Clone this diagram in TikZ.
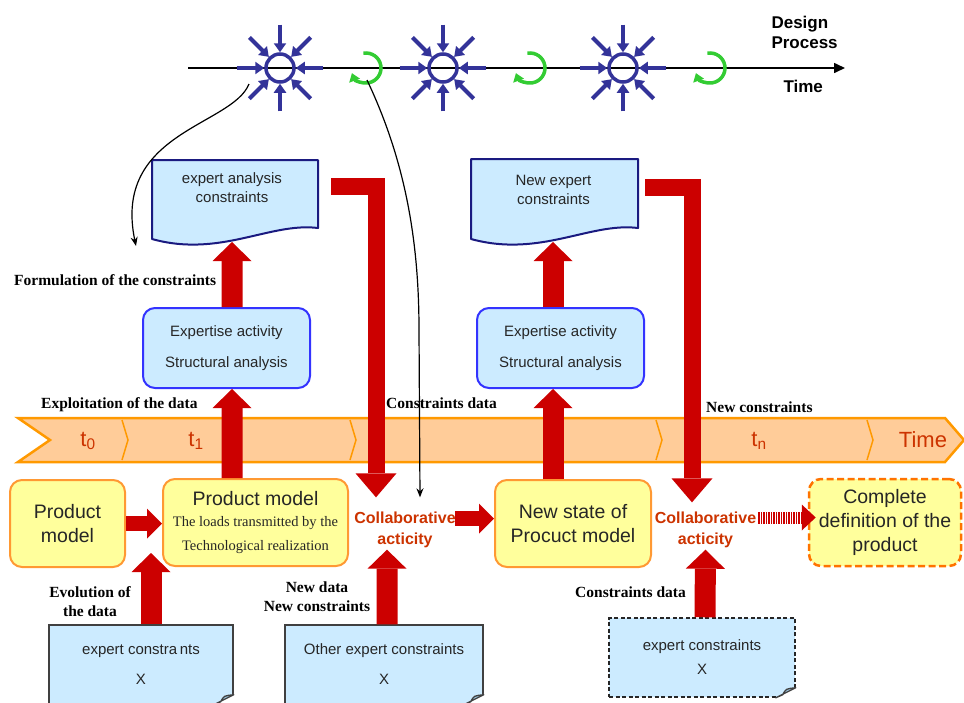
\documentclass[tikz,border=0pt]{standalone}
\usepackage{fontspec}
\setmainfont{Liberation Serif}
\setsansfont{Liberation Sans}
\usetikzlibrary{arrows.meta,calc}

\definecolor{flowred}{HTML}{CC0000}
\definecolor{starblue}{HTML}{333399}
\definecolor{turngreen}{HTML}{33CC33}
\definecolor{paleblue}{HTML}{CCEBFF}
\definecolor{docnavy}{HTML}{1A1A80}
\definecolor{boxblue}{HTML}{3333FF}
\definecolor{paleyellow}{HTML}{FFFF9C}
\definecolor{boxorange}{HTML}{FF9933}
\definecolor{bandfill}{HTML}{FFCC99}
\definecolor{bandline}{HTML}{FF9900}
\definecolor{rust}{HTML}{CC3300}
\definecolor{inkgray}{HTML}{262626}
\definecolor{foldblue}{HTML}{9CC3DC}

\def\loadsfont{\rmfamily\fontsize{14.5}{21}\selectfont}

\tikzset{
  hub/.style={circle, draw=starblue, line width=3.5pt, minimum size=28pt, inner sep=0pt},
  hubarrow/.style={starblue, line width=4pt, -{Triangle[width=12pt,length=9pt]}},
  turnarrow/.style={turngreen, line width=3.5pt, -{Triangle[width=11pt,length=8pt]}},
  cuearrow/.style={black, line width=1.2pt, -{Stealth[width=7pt,length=9pt]}},
  labtext/.style={font=\rmfamily\bfseries\fontsize{15.5}{19}\selectfont, inner sep=0pt},
  doctext/.style={font=\sffamily\fontsize{15}{19}\selectfont, text=inkgray, align=center, inner sep=0pt},
  docline/.style={draw=docnavy, line width=2pt, fill=paleblue, line join=round},
  expbox/.style={rectangle, rounded corners=12pt, draw=boxblue, line width=2pt, fill=paleblue,
    minimum width=167pt, minimum height=80pt, align=center, text=inkgray,
    font=\sffamily\fontsize{15}{31}\selectfont},
  modelbox/.style={rectangle, rounded corners=12pt, draw=boxorange, line width=2pt, fill=paleyellow,
    minimum height=87pt, align=center, text=inkgray, inner sep=2pt,
    font=\sffamily\fontsize{19.5}{24}\selectfont},
  collab/.style={font=\sffamily\bfseries\fontsize{16}{21}\selectfont, text=rust, align=center, inner sep=2pt},
  notebox/.style={rectangle, draw=black!75, line width=1.5pt, fill=paleblue, align=center, text=inkgray,
    inner sep=0pt, font=\sffamily\fontsize{15}{30}\selectfont},
  bandtext/.style={font=\sffamily\fontsize{22}{24}\selectfont, text=rust, inner sep=0pt},
  redup/.style={flowred, line width=21pt, -{Triangle[width=39pt,length=19pt,line width=0pt]}},
  redside/.style={flowred, line width=15pt, -{Triangle[width=30pt,length=15pt,line width=0pt]}},
  redbend/.style={flowred, line width=17pt, line join=miter, -{Triangle[width=41pt,length=24pt,line width=0pt]}},
  reddots/.style={flowred, line width=12pt, dash pattern=on 1.5pt off 1pt, -{Triangle[width=26pt,length=14pt,line width=0pt]}},
}

\begin{document}
\begin{tikzpicture}[x=10pt,y=-10pt]
  \useasboundingbox (0,0) rectangle (96.4,70.2);

  %%%%% TIME AXIS %%%%%
  \coordinate (axstart) at (18.8,6.8);
  \coordinate (axend) at (84.5,6.8);
  \draw[line width=1.6pt, -{Triangle[width=10pt,length=11pt]}] (axstart) -- (axend);
  \node[font=\sffamily\bfseries\fontsize{17}{20}\selectfont, align=left, anchor=west] (design) at (76.8,3.2) {Design\\Process};
  \node[font=\sffamily\bfseries\fontsize{17}{20}\selectfont, anchor=west] (timeword) at (78.0,8.6) {Time};

  \foreach \sx [count=\i] in {28.0,44.3,62.3}{
    \node[hub] (hub\i) at (\sx,6.8) {};
    \foreach \a in {0,45,...,315}
      \draw[hubarrow] ($(hub\i.center)!2.75!(hub\i.\a)$) -- (hub\i.\a);
  }
  \foreach \gx [count=\i] in {36.6,53.0,71.0}{
    \coordinate (turn\i) at (\gx,6.8);
    \draw[turnarrow] ($(turn\i)+(-100:1.5)$) arc[start angle=-100, end angle=160, radius=1.5];
  }

  %%%%% TIME BAND %%%%%
  \draw[bandline, fill=bandfill, line width=2.5pt, line join=miter] (1.8,41.8) -- (94.5,41.8) -- (96.4,44.0) -- (94.5,46.2) -- (1.8,46.2) -- (5.0,44.0) -- cycle;
  \foreach \bx in {12.2,35.0,65.6,86.7}
    \draw[bandline, line width=1.5pt] (\bx,42.0) -- (\bx+0.6,44.0) -- (\bx,46.0);
  \node[bandtext] (tzero) at (8.8,44.1) {t\textsubscript{0}};
  \node[bandtext] (tone) at (19.6,44.1) {t\textsubscript{1}};
  \node[bandtext] (tlast) at (75.9,44.1) {t\textsubscript{n}};
  \node[bandtext] (bandtime) at (92.3,44.0) {Time};

  %%%%% LABELS %%%%%
  \node[labtext, anchor=west] (formlab) at (1.4,28.0) {Formulation of the constraints};
  \node[labtext, anchor=west] (exploitlab) at (4.1,40.5) {Exploitation of the data};
  \node[labtext, anchor=west] (cdlabA) at (38.6,40.3) {Constraints data};
  \node[labtext, anchor=west] (nclab) at (70.6,40.7) {New constraints};
  \node[labtext, align=center] (evollab) at (9.0,60.2) {Evolution of\\the data};
  \node[labtext, align=center] (newlab) at (31.7,59.7) {New data\\New constraints};
  \node[labtext, anchor=west] (cdlabB) at (57.5,59.2) {Constraints data};

  %%%%% EXPERT DOCUMENTS %%%%%
  \draw[docline] (15.2,16.0) -- (31.8,16.0) -- (31.8,22.8) .. controls (27.0,22.2) and (22.0,25.8) .. (15.2,23.9) -- cycle;
  \node[doctext] (expA) at (23.2,18.75) {expert analysis\\constraints};
  \coordinate (expAfoot) at (23.2,24.2);
  \coordinate (expAtail) at (33.1,18.65);

  \draw[docline] (47.1,15.9) -- (63.8,15.9) -- (63.8,22.8) .. controls (59.0,22.2) and (54.0,25.8) .. (47.1,23.9) -- cycle;
  \node[doctext] (expB) at (55.35,18.95) {New expert\\constraints};
  \coordinate (expBfoot) at (55.3,24.2);
  \coordinate (expBtail) at (64.5,18.7);

  \node[expbox] (actA) at (22.65,34.8) {Expertise activity\\Structural analysis};
  \node[expbox] (actB) at (56.05,34.8) {Expertise activity\\Structural analysis};

  %%%%% PRODUCT STATES %%%%%
  \node[modelbox, minimum width=115pt] (pmA) at (6.75,52.35) {Product\\model};
  \node[modelbox, minimum width=185pt] (pmB) at (25.55,52.25) {Product model\\[-3pt]\loadsfont The loads transmitted by the\\\loadsfont Technological realization};
  \node[modelbox, minimum width=156pt] (newstate) at (57.3,52.35) {New state of\\Procuct model};
  \node[modelbox, minimum width=152pt, draw=orange!90!red, line width=2.5pt, dash pattern=on 7pt off 3.5pt] (complete) at (88.5,52.25) {Complete\\definition of the\\product};

  \node[collab] (meetA) at (40.5,52.95) {Collaborative\\acticity};
  \node[collab] (meetB) at (70.55,52.95) {Collaborative\\acticity};

  %%%%% BOTTOM NOTES %%%%%
  \node[notebox, minimum width=184pt, minimum height=79pt] (noteA) at (14.1,66.45) {expert constra\,nts\\X};
  \node[notebox, minimum width=198pt, minimum height=79pt] (noteB) at (38.4,66.45) {Other expert constraints\\X};
  \node[notebox, minimum width=186pt, minimum height=79pt, dash pattern=on 4pt off 2.5pt, draw=black!85,
        font=\sffamily\fontsize{15}{24}\selectfont] (noteC) at (70.2,65.75) {expert constraints\\X};
  \foreach \n in {noteA,noteB,noteC}{
    \fill[white] ($(\n.south east)+(0.2,0.2)$) -- ($(\n.south east)+(0.2,-1.2)$) -- ($(\n.south east)+(-2.2,0.2)$) -- cycle;
    \draw[black!75, line width=1.3pt, fill=foldblue, line join=round] ($(\n.south east)+(0,-1.0)$) .. controls ($(\n.south east)+(-1.0,-0.9)$) .. ($(\n.south east)+(-1.3,-0.3)$) -- ($(\n.south east)+(-2.0,0)$) -- cycle;
  }

  %%%%% RED FLOWS %%%%%
  \draw[redside] (pmA.east) -- (pmA.east -| pmB.west);
  \draw[redside] ($(meetA.east |- newstate.west)+(-0.3,-0.5)$) -- ($(newstate.west)+(0,-0.5)$);
  \draw[reddots] ($(meetB.east |- complete.west)+(0,-0.5)$) -- ($(complete.west)+(0.8,-0.5)$);

  \draw[redup] ([xshift=-23.5pt]pmB.north) -- ([xshift=5.5pt]actA.south);
  \draw[redup] ([xshift=5.5pt]actA.north) -- (expAfoot);
  \draw[redup] ([xshift=-20pt]newstate.north) -- ([xshift=-7.5pt]actB.south);
  \draw[redup] ([xshift=-7.5pt]actB.north) -- (expBfoot);

  \draw[redbend] (expAtail) -| ([xshift=-29pt,yshift=12pt]meetA.north);
  \draw[redbend] (expBtail) -| ([xshift=-13.5pt,yshift=7pt]meetB.north);

  \draw[redup] ($(noteA.north)+(1.0,0)$) -- ($(noteA.north |- pmB.south)+(1.0,-1.4)$);
  \draw[redup] ([xshift=3pt]noteB.north) -- ([xshift=-18pt]meetA.south);
  \draw[redup] ([xshift=3pt]noteC.north) -- (meetB.south);

  %%%%% CUES %%%%%
  \coordinate (cueA) at (24.9,8.4);
  \coordinate (formtop) at (13.6,24.6);
  \draw[cuearrow] (cueA) .. controls (23.2,12.6) and (11.2,13.2) .. (formtop);
  \coordinate (cueB) at (36.7,8.0);
  \draw[cuearrow] (cueB) .. controls (40.5,16.0) and (41.9,24.0) .. (41.9,33.0) -- ([xshift=15pt,yshift=12pt]meetA.north);
\end{tikzpicture}
\end{document}
